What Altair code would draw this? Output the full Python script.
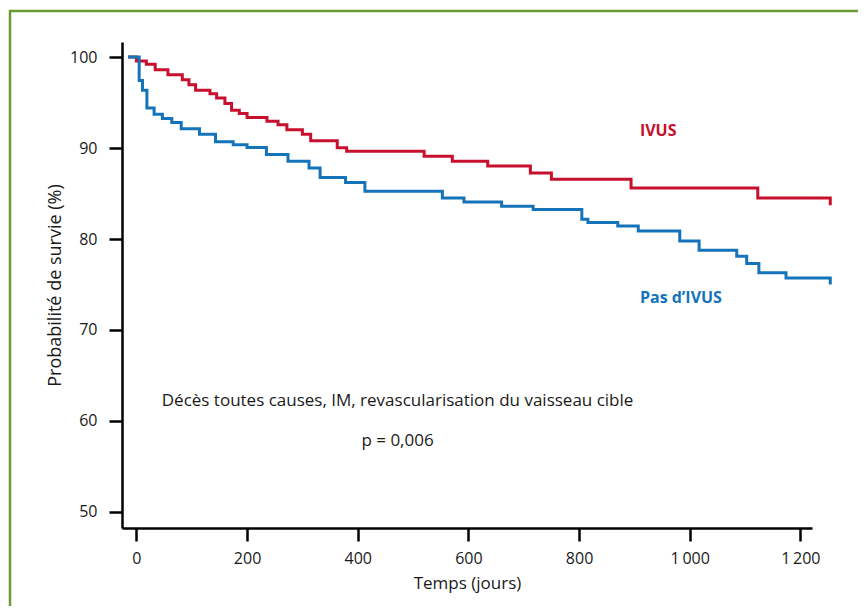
import altair as alt
import pandas as pd

# Kaplan-Meier step curves (day, survival %)
ivus_days = [-15, 0, 18, 34, 57, 83, 95, 107, 133, 145, 160, 172, 186, 200, 236, 256, 272, 300, 315,
             363, 380, 520, 571, 635, 712, 750, 894, 1123, 1254, 1254]
ivus_surv = [100, 99.56, 99.2, 98.6, 98.06, 97.5, 96.96, 96.34, 95.97, 95.5, 94.88, 94.14, 93.78, 93.34,
             92.93, 92.56, 92.0, 91.5, 90.8, 90.04, 89.64, 89.09, 88.54, 88.03, 87.25, 86.56, 85.6, 84.5,
             84.5, 83.7]

noivus_days = [-15, 5, 11, 19, 32, 47, 64, 81, 114, 143, 175, 200, 235, 274, 312, 332, 378, 413, 553,
               592, 660, 717, 805, 816, 870, 907, 982, 1017, 1085, 1103, 1125, 1174, 1254, 1254]
noivus_surv = [100, 97.43, 96.34, 94.4, 93.7, 93.23, 92.79, 92.13, 91.5, 90.7, 90.37, 90.06, 89.3, 88.55,
               87.8, 86.77, 86.2, 85.24, 84.5, 84.07, 83.6, 83.23, 82.17, 81.8, 81.43, 80.88, 79.78, 78.76,
               78.1, 77.3, 76.3, 75.71, 75.71, 75.0]

series_names = ["IVUS", "Pas d\u2019IVUS"]
series_colors = ["#c8102e", "#1574b9"]
x_ticks = [0, 200, 400, 600, 800, 1000, 1200]
y_ticks = [50, 60, 70, 80, 90, 100]

FONT = "Open Sans"

rows = []
for name, days, surv in [(series_names[0], ivus_days, ivus_surv), (series_names[1], noivus_days, noivus_surv)]:
    for i, (d, s) in enumerate(zip(days, surv)):
        rows.append({"serie": name, "jour": d, "survie": s, "ordre": i})
df = pd.DataFrame(rows)

x_scale = alt.Scale(domain=[-26, 1221], nice=False, zero=False)
y_scale = alt.Scale(domain=[48.24, 101.65], nice=False, zero=False)

lines = alt.Chart(df).mark_line(interpolate="step-after", strokeWidth=3, strokeCap="butt").encode(
    x=alt.X("jour:Q", scale=x_scale,
            axis=alt.Axis(values=x_ticks, title="Temps (jours)",
                          labelExpr="replace(format(datum.value, ','), ',', '\u2009')",
                          labelPadding=9, titlePadding=9, titleFontSize=17)),
    y=alt.Y("survie:Q", scale=y_scale,
            axis=alt.Axis(values=y_ticks, title="Probabilit\u00e9 de survie (%)",
                          labelPadding=12, titlePadding=5, titleFontSize=18)),
    color=alt.Color("serie:N", scale=alt.Scale(domain=series_names, range=series_colors), legend=None),
    order="ordre:Q",
)

lab_df = pd.DataFrame({
    "jour": [910, 910],
    "survie": [91.85, 73.52],
    "serie": series_names,
})
labels = alt.Chart(lab_df).mark_text(align="left", baseline="middle", font=FONT, fontSize=16,
                                     fontWeight="bold").encode(
    x=alt.X("jour:Q", scale=x_scale),
    y=alt.Y("survie:Q", scale=y_scale),
    text="serie:N",
    color=alt.Color("serie:N", scale=alt.Scale(domain=series_names, range=series_colors), legend=None),
)

note_df = pd.DataFrame({
    "jour": [472, 472],
    "survie": [62.15, 57.75],
    "txt": ["D\u00e9c\u00e8s toutes causes, IM, revascularisation du vaisseau cible", "p = 0,006"],
})
notes = alt.Chart(note_df).mark_text(align="center", baseline="middle", font=FONT, fontSize=17,
                                     color="#1a1a1a").encode(
    x=alt.X("jour:Q", scale=x_scale),
    y=alt.Y("survie:Q", scale=y_scale),
    text="txt:N",
)

frame = alt.Chart(pd.DataFrame({"a": [0]})).mark_rect(fillOpacity=0, stroke="#6d9a34", strokeWidth=2.5).encode(
    x=alt.value(-112), x2=alt.value(760), y=alt.value(-31), y2=alt.value(600)
)

chart = alt.layer(frame, lines, labels, notes).properties(
    width=690, height=486,
    autosize=alt.AutoSizeParams(type="none"),
    padding={"left": 114, "top": 34, "right": 46, "bottom": 78},
).configure_view(strokeWidth=0).configure_axis(
    grid=False,
    domainColor="#000000", domainWidth=2.5,
    tickColor="#000000", tickWidth=2.5, tickSize=13,
    labelFont=FONT, labelFontSize=16, labelColor="#1a1a1a",
    titleFont=FONT, titleFontSize=17, titleColor="#1a1a1a", titleFontWeight="normal",
)

chart.save("out.html", embed_options={"renderer": "svg", "actions": False})
